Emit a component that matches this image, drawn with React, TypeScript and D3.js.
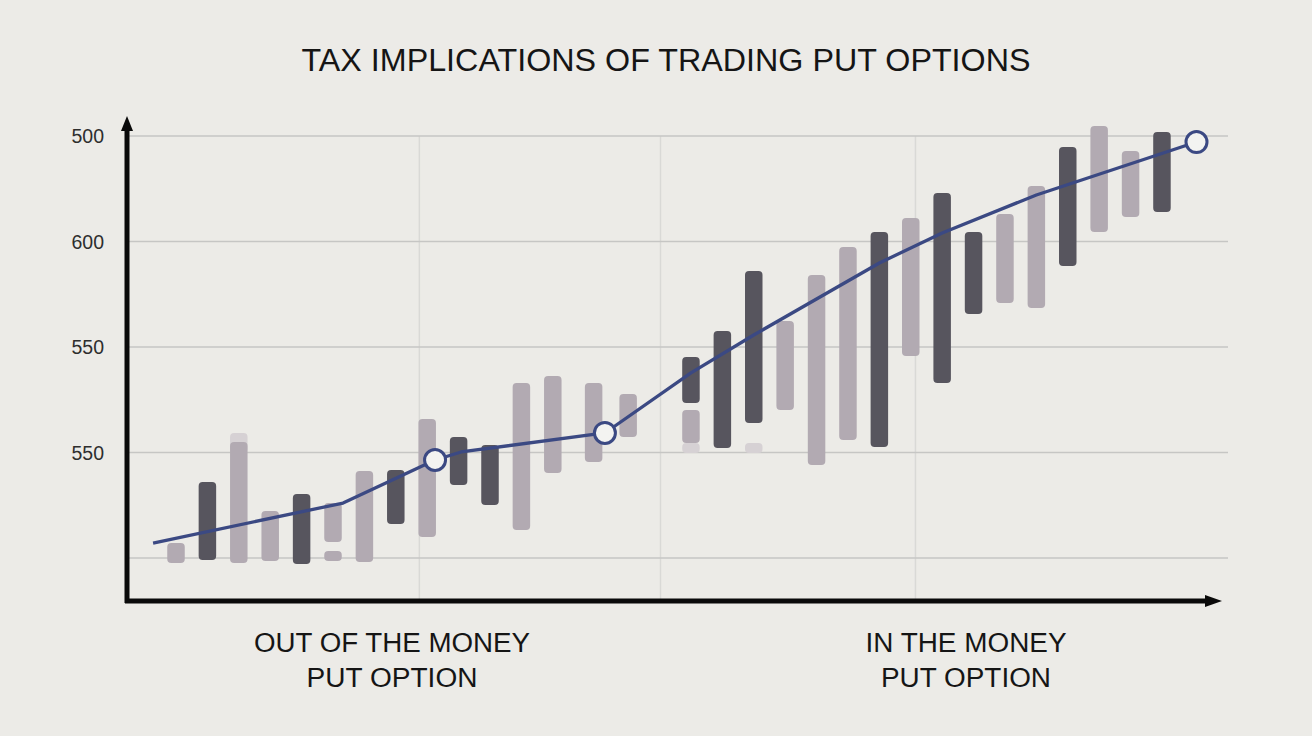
import React from "react";
import * as d3 from "d3";

// ---- data ----
const yTickValues = [400, 300, 200, 100];
const yTickLabels = ["500", "600", "550", "550"];
const gridValues = [0, 100, 200, 300, 400];
const vGridPositions = [7.75, 15.43, 23.55];

// bar positions (in slot units), low/high values and type
const barPos = [0, 1, 2, 3, 4, 5, 6, 7, 8, 9, 10, 11, 12, 13.3, 14.4, 16.4, 17.4, 18.4, 19.4, 20.4, 21.4, 22.4, 23.4, 24.4, 25.4, 26.4, 27.4, 28.4, 29.4, 30.4, 31.4];
const barLow = [-4.7, -1.9, -4.7, -2.8, -5.7, 15.2, -3.8, 32.2, 19.9, 69.2, 50.2, 26.5, 80.6, 91, 114.7, 146.9, 104.3, 128, 140.3, 88.2, 111.8, 105.2, 191.5, 165.9, 231.3, 241.7, 237, 276.8, 309, 323.2, 328];
const barHigh = [14.2, 72, 110, 44.5, 60.7, 52.1, 82.5, 83.4, 131.8, 114.7, 107.1, 165.9, 172.5, 165.9, 155.5, 190.5, 215.2, 272, 224.6, 268.2, 294.8, 309, 322.3, 346, 309, 326, 352.6, 389.6, 409.5, 385.8, 403.8];
const barType = ["L", "D", "L", "L", "D", "L", "L", "D", "L", "D", "D", "L", "L", "L", "L", "D", "D", "D", "L", "L", "L", "D", "L", "D", "D", "L", "L", "D", "L", "L", "D"];

// extra small segments
const extraPos = [2, 5, 16.4, 16.4, 18.4];
const extraLow = [100, -2.8, 109, 99.5, 99.5];
const extraHigh = [118.5, 6.6, 140.3, 109, 109];
const extraType = ["F", "L", "L", "F", "F"];

// trend line
const linePos = [-0.73, 5.32, 8.25, 9.08, 13.66, 16.4, 18.4, 22.4, 24.4, 27.4, 32.5];
const lineVal = [14.2, 52.1, 92.9, 100.5, 118.5, 175.4, 211.4, 279.6, 308.1, 344.1, 394.3];
const markerIdx = [2, 4, 10];

const title = "TAX IMPLICATIONS OF TRADING PUT OPTIONS";
const leftLabel = ["OUT OF THE MONEY", "PUT OPTION"];
const rightLabel = ["IN THE MONEY", "PUT OPTION"];

const W = 1312;
const H = 736;
const colors: Record<string, string> = { D: "#57555e", L: "#b2aab2", F: "#d6d1d4" };

export default function App() {
  const x = d3.scaleLinear().domain([0, 31]).range([176, 176 + 31 * 31.4]);
  const y = d3.scaleLinear().domain([0, 400]).range([558, 136]);
  const bw = 17.5;
  const line = d3
    .line<number>()
    .x((_, i) => x(linePos[i]))
    .y((v) => y(v));
  const font = "'Liberation Sans', Arial, Helvetica, sans-serif";
  const axisX = 127;
  const axisY = 601;

  return (
    <svg width={W} height={H} style={{ position: "absolute", left: 0, top: 0 }} fontFamily={font}>
      <rect x={0} y={0} width={W} height={H} fill="#ecebe7" />
      <text x={666} y={71} textAnchor="middle" fontSize={32} fill="#151515" textLength={729} lengthAdjust="spacingAndGlyphs">
        {title}
      </text>
      {/* grid */}
      {vGridPositions.map((p, i) => (
        <line key={"v" + i} x1={x(p)} x2={x(p)} y1={y(400)} y2={axisY} stroke="#d9d9d6" strokeWidth={1.5} />
      ))}
      {gridValues.map((v, i) => (
        <line key={"g" + i} x1={axisX} x2={1228} y1={y(v)} y2={y(v)} stroke="#c6c6c4" strokeWidth={1.5} />
      ))}
      {yTickLabels.map((label, i) => (
        <text key={"t" + i} x={104} y={y(yTickValues[i]) + 7} textAnchor="end" fontSize={19.5} fill="#2e2e2e">
          {label}
        </text>
      ))}
      {/* bars */}
      {extraPos.map((p, i) => (
        <rect key={"e" + i} x={x(p) - bw / 2} width={bw} y={y(extraHigh[i])} height={y(extraLow[i]) - y(extraHigh[i])} rx={4} fill={colors[extraType[i]]} />
      ))}
      {barPos.map((p, i) => (
        <rect key={"b" + i} x={x(p) - bw / 2} width={bw} y={y(barHigh[i])} height={y(barLow[i]) - y(barHigh[i])} rx={4} fill={colors[barType[i]]} />
      ))}
      {/* trend */}
      <path d={line(lineVal) || ""} fill="none" stroke="#3b4983" strokeWidth={3.3} strokeLinejoin="round" />
      {markerIdx.map((k) => (
        <circle key={"m" + k} cx={x(linePos[k])} cy={y(lineVal[k])} r={10.5} fill="#f3f3f1" stroke="#3b4983" strokeWidth={3} />
      ))}
      {/* axes */}
      <line x1={axisX} x2={axisX} y1={axisY + 2} y2={128} stroke="#0a0a0a" strokeWidth={5} />
      <path d={`M${axisX - 6},${131} L${axisX},${116} L${axisX + 6},${131} Z`} fill="#0a0a0a" />
      <line x1={axisX - 2} x2={1208} y1={axisY} y2={axisY} stroke="#0a0a0a" strokeWidth={5} />
      <path d={`M${1205},${axisY - 6} L${1222},${axisY} L${1205},${axisY + 6} Z`} fill="#0a0a0a" />
      {/* category labels */}
      <text x={392} y={652} textAnchor="middle" fontSize={27} fill="#151515" textLength={276} lengthAdjust="spacingAndGlyphs">{leftLabel[0]}</text>
      <text x={392} y={687} textAnchor="middle" fontSize={27} fill="#151515" textLength={171} lengthAdjust="spacingAndGlyphs">{leftLabel[1]}</text>
      <text x={966} y={652} textAnchor="middle" fontSize={27} fill="#151515" textLength={201} lengthAdjust="spacingAndGlyphs">{rightLabel[0]}</text>
      <text x={966} y={687} textAnchor="middle" fontSize={27} fill="#151515" textLength={170} lengthAdjust="spacingAndGlyphs">{rightLabel[1]}</text>
    </svg>
  );
}
